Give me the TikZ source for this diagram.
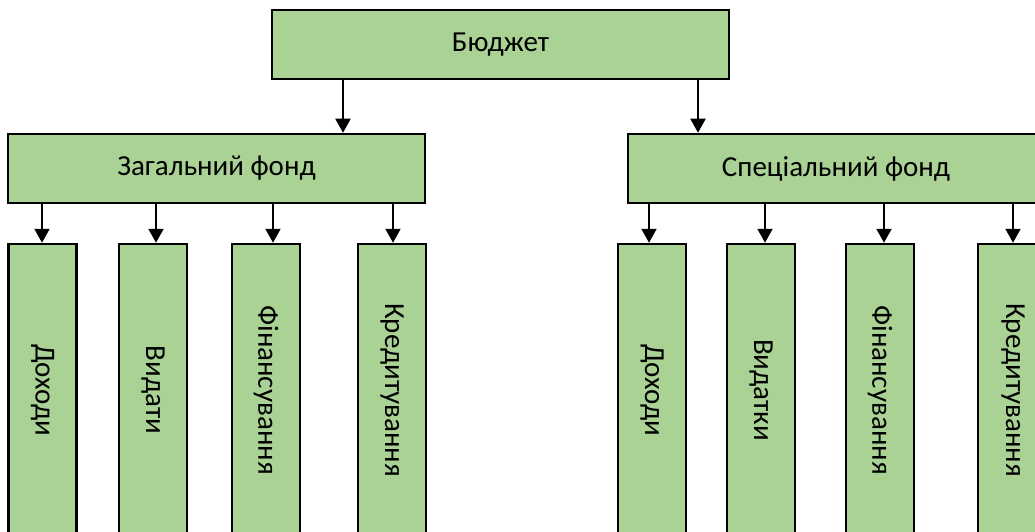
\documentclass[tikz,border=0pt]{standalone}
\usepackage{fontspec}
\setmainfont{Carlito}
\usetikzlibrary{arrows.meta}
\definecolor{boxgreen}{RGB}{169,210,148}
\tikzset{
  boxnode/.style={draw=black, line width=2.5pt, fill=boxgreen, inner sep=0pt,
    font=\fontsize{29}{34}\selectfont},
  hbox/.style={boxnode, minimum height=69pt},
  vbox/.style={boxnode, rotate=-90, minimum width=292pt, minimum height=68pt},
  arr/.style={line width=2pt, -{Triangle[width=15pt,length=14pt]}}
}
\begin{document}
\begin{tikzpicture}[x=1pt,y=-1pt]
\clip (0,0) rectangle (1035,532);
\fill[white] (0,0) rectangle (1035,532);
\node[hbox, minimum width=457pt] (budget) at (500.5,44.5) {Бюджет};
\node[hbox, minimum width=417pt] (zag) at (216.5,168.5) {Загальний фонд};
\node[hbox, minimum width=416pt] (spec) at (836,168.5) {Спеціальний фонд};
\node[vbox] (l1) at (42.5,390) {Доходи};
\node[vbox] (l2) at (153,390) {Видати};
\node[vbox] (l3) at (266,390) {Фінансування};
\node[vbox] (l4) at (392,390) {Кредитування};
\node[vbox] (r1) at (652,390) {Доходи};
\node[vbox] (r2) at (761,390) {Видатки};
\node[vbox] (r3) at (880,390) {Фінансування};
\node[vbox, minimum height=70pt] (r4) at (1013,390) {Кредитування};
\coordinate (b1) at (343,0);
\coordinate (b2) at (698,0);
\coordinate (a1) at (42,0);
\coordinate (a2) at (156,0);
\coordinate (a3) at (273,0);
\coordinate (a4) at (393,0);
\coordinate (c1) at (649,0);
\coordinate (c2) at (765,0);
\coordinate (c3) at (884,0);
\coordinate (c4) at (1013,0);
\draw[arr] (budget.south -| b1) -- (zag.north -| b1);
\draw[arr] (budget.south -| b2) -- (spec.north -| b2);
\draw[arr] (zag.south -| a1) -- (l1.west -| a1);
\draw[arr] (zag.south -| a2) -- (l2.west -| a2);
\draw[arr] (zag.south -| a3) -- (l3.west -| a3);
\draw[arr] (zag.south -| a4) -- (l4.west -| a4);
\draw[arr] (spec.south -| c1) -- (r1.west -| c1);
\draw[arr] (spec.south -| c2) -- (r2.west -| c2);
\draw[arr] (spec.south -| c3) -- (r3.west -| c3);
\draw[arr] (spec.south -| c4) -- (r4.west -| c4);
\end{tikzpicture}
\end{document}
